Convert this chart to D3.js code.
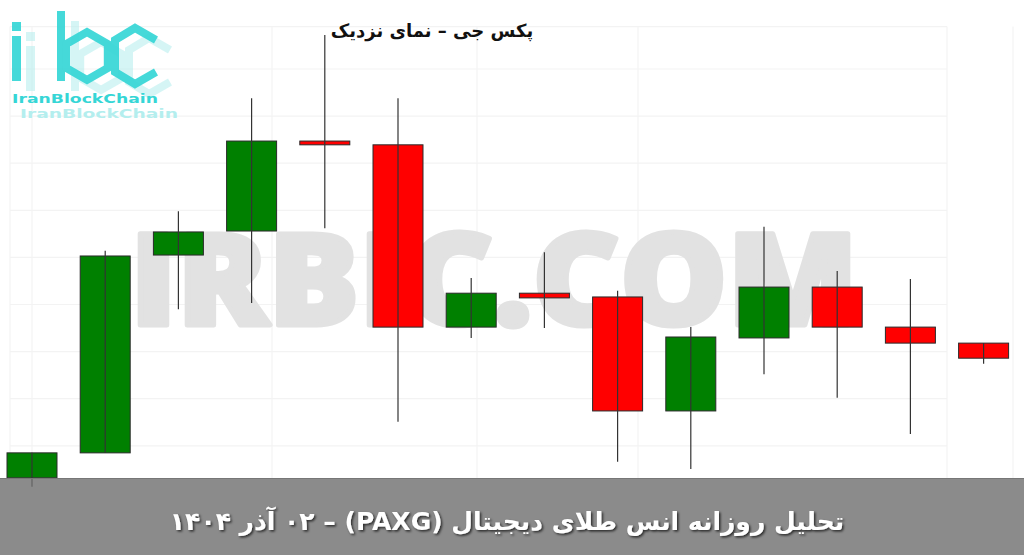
<!DOCTYPE html>
<html><head><meta charset="utf-8">
<script src="https://cdn.jsdelivr.net/npm/d3@7"></script>
<style>html,body{margin:0;padding:0;background:#fff;}svg{display:block;}</style>
</head><body>
<svg id="chart" width="1024" height="555"></svg>
<script>
// ---- data ----
const categories = ["1","2","3","4","5","6","7","8","9","10","11","12","13","14"];
const openVals  = [4003.2,4008.5,4050.5,4055.6,4074.7,4073.9,4035.2,4042.4,4041.6,4017.4,4032.9,4043.7,4035.2,4031.8];
const highVals  = [4008.5,4051.4,4059.8,4083.8,4097.2,4083.8,4045.6,4051.1,4042.9,4035.2,4056.5,4047.1,4045.4,4031.8];
const lowVals   = [4001.3,4008.5,4039.0,4040.3,4056.2,4015.1,4032.9,4035.0,4006.6,4005.1,4025.2,4020.2,4012.5,4027.4];
const closeVals = [4008.5,4050.3,4055.4,4074.7,4073.9,4035.2,4042.4,4041.4,4017.4,4033.1,4043.7,4035.2,4031.8,4028.6];
const gridTicks = [4010,4020,4030,4040,4050,4060,4070,4080,4090];
const titleText = "پکس جی – نمای نزدیک";
const bandText = "تحلیل روزانه  انس طلای دیجیتال (PAXG) – ۰۲ آذر ۱۴۰۴";
const watermarkText = "IRBIC.COM";
const logoText = "IranBlockChain";

const data = categories.map((c,i)=>({c, o:openVals[i], h:highVals[i], l:lowVals[i], cl:closeVals[i]}));

const svg = d3.select("#chart");
const x = d3.scaleBand().domain(categories).range([-4.6, 1020.2]).paddingInner(0.317).paddingOuter(0.1585);
const y = d3.scaleLinear().domain([4000, 4099]).range([492.9, 26.6]);

// grid
const grid = svg.append("g").attr("stroke","#f3f3f3").attr("stroke-width",1.2);
grid.selectAll("line.h").data(gridTicks.concat([4099])).join("line")
  .attr("x1",10).attr("x2",947).attr("y1",d=>y(d)).attr("y2",d=>y(d));
[10,32,272,477,638,947,1013].forEach(v=>{
  grid.append("line").attr("x1",v).attr("x2",v).attr("y1",y(4099)).attr("y2",478);
});

// watermark
svg.append("text").attr("x",130).attr("y",325)
  .attr("font-family","'Open Sans', 'DejaVu Sans', sans-serif").attr("font-weight",800)
  .attr("font-size",127).attr("fill","#e2e2e2").attr("stroke","#e2e2e2").attr("stroke-width",5)
  .attr("stroke-linejoin","round")
  .attr("textLength",728).attr("lengthAdjust","spacingAndGlyphs")
  .text(watermarkText);

// candles
const cg = svg.append("g");
const bw = x.bandwidth();
cg.selectAll("rect.body").data(data).join("rect")
  .attr("x",d=>x(d.c)).attr("width",bw)
  .attr("y",d=>y(Math.max(d.o,d.cl)))
  .attr("height",d=>Math.max(1,Math.abs(y(d.o)-y(d.cl))))
  .attr("fill",d=>d.cl>=d.o?"#008000":"#ff0000")
  .attr("stroke","#2a2a2a").attr("stroke-width",1);
cg.selectAll("line.wick").data(data).join("line")
  .attr("x1",d=>x(d.c)+bw/2).attr("x2",d=>x(d.c)+bw/2)
  .attr("y1",d=>y(d.h)).attr("y2",d=>y(d.l))
  .attr("stroke","#333").attr("stroke-width",1.2);

// title
svg.append("text").attr("x",432).attr("y",37).attr("text-anchor","middle")
  .attr("direction","rtl")
  .attr("font-family","'DejaVu Sans', sans-serif").attr("font-weight","bold")
  .attr("font-size",18).attr("fill","#111").text(titleText);

// logo
const logo = svg.append("g");
const cyan = "#36d6d6", cyanLight = "#b4eeee";
function hexPath(cx,cy,r){
  const pts = d3.range(6).map(k=>{const a=Math.PI/3*k+Math.PI/6;return [cx+r*Math.cos(a), cy+r*Math.sin(a)];});
  return "M"+pts.map(p=>p.join(",")).join("L")+"Z";
}
function drawLogo(g,dx,dy,col,op){
  const s = g.append("g").attr("transform",`translate(${dx},${dy})`).attr("opacity",op);
  s.append("rect").attr("x",12).attr("y",22).attr("width",9).attr("height",9).attr("fill",col);
  s.append("rect").attr("x",12).attr("y",36).attr("width",9).attr("height",45).attr("fill",col);
  s.append("rect").attr("x",57).attr("y",11).attr("width",8).attr("height",70).attr("fill",col);
  s.append("path").attr("d",hexPath(87,56,24)).attr("fill","none").attr("stroke",col).attr("stroke-width",8);
  s.append("path").attr("d","M156,40 L135,28 L115,40 L115,72 L135,84 L156,72").attr("fill","none").attr("stroke",col).attr("stroke-width",8);
}
drawLogo(logo,14,10,cyanLight,0.55);
drawLogo(logo,0,0,cyan,0.92);
logo.append("text").attr("x",12).attr("y",103).attr("font-family","'DejaVu Sans', sans-serif")
  .attr("font-weight","bold").attr("font-size",13).attr("fill",cyan)
  .attr("textLength",146).attr("lengthAdjust","spacingAndGlyphs").text(logoText);
logo.append("text").attr("x",20).attr("y",118).attr("font-family","'DejaVu Sans', sans-serif")
  .attr("font-weight","bold").attr("font-size",13).attr("fill",cyanLight)
  .attr("textLength",158).attr("lengthAdjust","spacingAndGlyphs").text(logoText);

// bottom band
const defs = svg.append("defs");
const f = defs.append("filter").attr("id","sh").attr("x","-5%").attr("y","-30%").attr("width","110%").attr("height","160%");
f.append("feDropShadow").attr("dx",1.5).attr("dy",1.5).attr("stdDeviation",1).attr("flood-color","#000").attr("flood-opacity",0.7);
svg.append("rect").attr("x",0).attr("y",478).attr("width",1024).attr("height",77)
  .attr("fill","#6e6e6e").attr("fill-opacity",0.8);
svg.append("line").attr("x1",0).attr("x2",1024).attr("y1",478.5).attr("y2",478.5).attr("stroke","#777");
svg.append("text").attr("x",507).attr("y",530).attr("text-anchor","middle")
  .attr("direction","rtl")
  .attr("font-family","'DejaVu Sans', sans-serif").attr("font-weight","bold")
  .attr("font-size",25).attr("fill","#fff").attr("filter","url(#sh)").text(bandText);
</script>
</body></html>
